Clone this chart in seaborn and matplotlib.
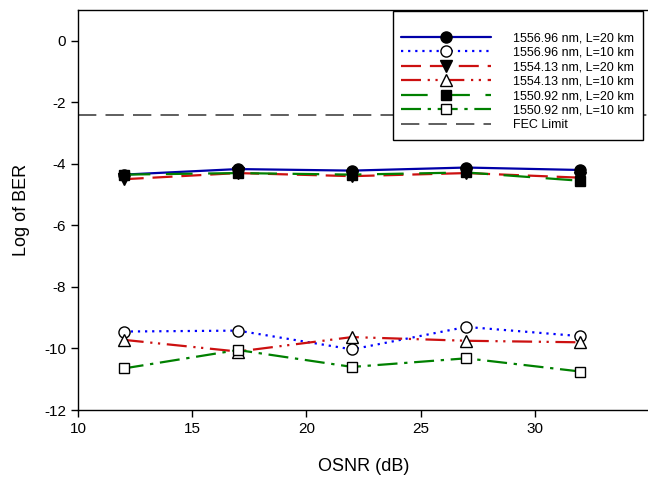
import numpy as np
import pandas as pd
import matplotlib
matplotlib.use("Agg")
import matplotlib.pyplot as plt
import seaborn as sns

osnr = [12, 17, 22, 27, 32]

ber_1556_20 = [-4.35, -4.17, -4.22, -4.12, -4.2]
ber_1556_10 = [-9.45, -9.42, -10.03, -9.3, -9.6]
ber_1554_20 = [-4.5, -4.3, -4.4, -4.3, -4.45]
ber_1554_10 = [-9.72, -10.1, -9.63, -9.75, -9.8]
ber_1550_20 = [-4.35, -4.3, -4.35, -4.28, -4.55]
ber_1550_10 = [-10.65, -10.05, -10.6, -10.32, -10.75]
fec_limit = -2.42

labels = ["1556.96 nm, L=20 km", "1556.96 nm, L=10 km",
          "1554.13 nm, L=20 km", "1554.13 nm, L=10 km",
          "1550.92 nm, L=20 km", "1550.92 nm, L=10 km"]
series = [ber_1556_20, ber_1556_10, ber_1554_20, ber_1554_10, ber_1550_20, ber_1550_10]

# style per series: color, dash pattern, marker, filled?
styles = [
    ("#0000a8", (None, None), "o", True),
    ("#0000ff", (1, 2.2), "o", False),
    ("#cc1010", (9, 4), "v", True),
    ("#cc1010", (9, 3, 1, 2.5, 1, 3), "^", False),
    ("#008000", (12, 7), "s", True),
    ("#008000", (9, 3, 1.5, 3), "s", False),
]

sns.set_style("ticks")
plt.rcParams['font.family'] = ['Liberation Sans', 'DejaVu Sans']
plt.rcParams['axes.unicode_minus'] = False
plt.rcParams['text.color'] = 'black'
plt.rcParams['axes.labelcolor'] = 'black'
plt.rcParams['xtick.color'] = 'black'
plt.rcParams['ytick.color'] = 'black'

fig = plt.figure(figsize=(6.48, 4.78), dpi=100)
ax = fig.add_axes([78/648, 68/478, 571/648, 400/478])

for lab, vals, (col, dash, mk, filled) in zip(labels, series, styles):
    df = pd.DataFrame({"osnr": osnr, "ber": vals})
    sns.lineplot(data=df, x="osnr", y="ber", ax=ax, color=col, lw=1.6,
                 marker=mk, markersize=8 if mk != "s" else 7.5,
                 markerfacecolor="black" if filled else "white",
                 markeredgecolor="black", markeredgewidth=1,
                 label=lab)
    line = ax.get_lines()[-1]
    if dash[0] is not None:
        line.set_dashes(dash)

fec = ax.axhline(fec_limit, color="#333333", lw=1.1, dashes=(12, 6), label="FEC Limit")

ax.set_xlim(10, 35)
ax.set_ylim(-12, 1)
ax.set_xticks([10, 15, 20, 25, 30])
ax.set_yticks(np.arange(-12, 1, 2))
ax.tick_params(direction="out", length=5, width=1, labelsize=11,
               color="black", labelcolor="black")
ax.spines["right"].set_visible(False)
for s in ["left", "bottom", "top"]:
    ax.spines[s].set_color("black")
    ax.spines[s].set_linewidth(1)

ax.set_xlabel("OSNR (dB)", fontsize=13, labelpad=16, color="black")
ax.set_ylabel("Log of BER", fontsize=13, labelpad=10, color="black")

leg = ax.legend(loc="upper right", bbox_to_anchor=(643/648, 1 - 11/478),
                bbox_transform=fig.transFigure, fontsize=9, frameon=True,
                fancybox=False, edgecolor="black", framealpha=1,
                handlelength=7.2, handletextpad=1.75, labelspacing=0.2,
                borderpad=0.7, borderaxespad=0,
                title=" ", title_fontsize=7)
leg.get_frame().set_linewidth(1)
for t in leg.get_texts():
    t.set_color("black")

fig.savefig("out.png", dpi=100)
